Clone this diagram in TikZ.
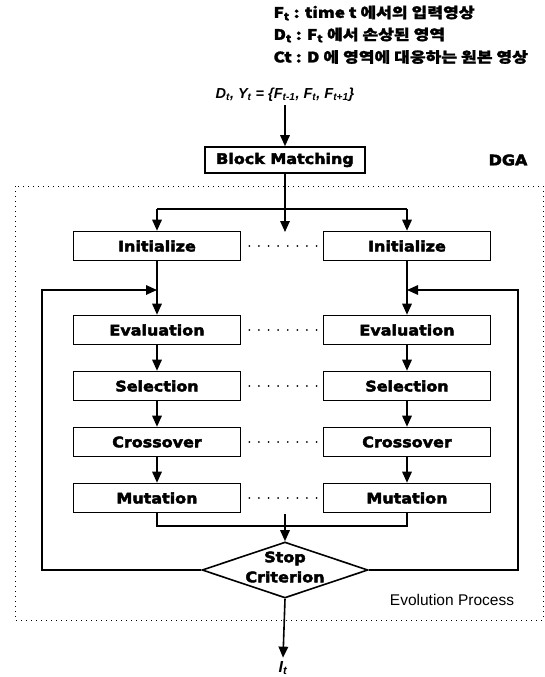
\documentclass[tikz,border=0pt]{standalone}
\usepackage{fontspec}
\setmainfont{DejaVu Sans}
\newfontfamily\blackfont{DejaVu Sans Bold}[FakeBold=3, FakeStretch=1.1]
\newfontfamily\krfont{Noto Sans CJK KR}[FakeStretch=1.18, BoldFeatures={FakeBold=1.5}]
\newfontfamily\arfont{Liberation Sans}[BoldFeatures={FakeBold=2}]
\usepackage{tikz}
\usetikzlibrary{arrows.meta}
\usetikzlibrary{shapes.geometric, calc}

\tikzset{
  stepbox/.style={draw, line width=1.6pt, fill=white, minimum width=167pt,
    minimum height=29pt, inner sep=0pt, font=\blackfont\fontsize{14.5}{17}\selectfont},
  flow/.style={line width=1.6pt, -{Triangle[length=11pt,width=9.5pt]}},
  link/.style={line width=1.6pt},
  gap/.style={line width=1.8pt, dash pattern=on 0.1pt off 9.5pt, line cap=round},
}

\begin{document}
\begin{tikzpicture}[x=1pt, y=-1pt]
\useasboundingbox (0,0) rectangle (545,677);
% legend
\node[anchor=west, font=\krfont\bfseries\fontsize{14.5}{16}\selectfont] (leg1) at (270,13) {F\textsubscript{t} : time t 에서의 입력영상};
\node[anchor=west, font=\krfont\bfseries\fontsize{14.5}{16}\selectfont] (leg2) at (270,35) {D\textsubscript{t} : F\textsubscript{t} 에서 손상된 영역};
\node[anchor=west, font=\krfont\bfseries\fontsize{14.5}{16}\selectfont] (leg3) at (270,57) {Ct : D 에 영역에 대응하는 원본 영상};

% input and block matching
\node[font=\arfont\bfseries\itshape\fontsize{14.5}{16}\selectfont] (input) at (285,95) {D\textsubscript{t}, Y\textsubscript{t} = \{F\textsubscript{t-1}, F\textsubscript{t}, F\textsubscript{t+1}\}};
\node[stepbox, minimum width=160pt, minimum height=26pt] (bm) at (285,160) {Block Matching};
\node[font=\blackfont\fontsize{14.5}{17}\selectfont] (dga) at (508,160) {DGA};
\draw[flow] (input.south) -- (bm.north);

% evolution process frame
\draw[line width=1pt, dash pattern=on 1pt off 4pt] (15,186) rectangle (543,620);
\node[font=\arfont\fontsize{15.5}{17}\selectfont] (evo) at (452,600) {Evolution Process};

% two populations
\foreach \nm/\txt/\y in {init/Initialize/246, eval/Evaluation/330, sel/Selection/386, cross/Crossover/442, mut/Mutation/498}{
  \node[stepbox] (\nm1) at (157,\y) {\txt};
  \node[stepbox] (\nm2) at (407,\y) {\txt};
  \draw[gap] ($(\nm1.east)+(8,0)$) -- (\nm2.west);
}
\foreach \a/\b in {init/eval, eval/sel, sel/cross, cross/mut}{
  \draw[flow] (\a1.south) -- (\b1.north);
  \draw[flow] (\a2.south) -- (\b2.north);
}

% split after block matching
\coordinate (split) at (285,209);
\coordinate (hang) at (285,232);
\draw[flow] (bm.south) -- (hang);
\draw[link] (split -| init1) -- (split -| init2);
\draw[flow] (split -| init1) -- (init1.north);
\draw[flow] (split -| init2) -- (init2.north);

% stop criterion
\node[draw, diamond, line width=1.6pt, fill=white, minimum width=166pt, minimum height=56pt, inner sep=0pt] (stop) at (285,570) {};
\node[align=center, font=\blackfont\fontsize{14.5}{20}\selectfont] (stoptxt) at (285,567) {Stop\\Criterion};
\coordinate (join) at (285,514);
\draw[link] (mut1.south) -- ++(0,12.5) -| (mut2.south);
\draw[flow] (join) -- (stop.north);

% feedback
\coordinate (fbL) at (157,290);
\coordinate (fbR) at (407,290);
\draw[flow] (stop.west) -- ++(-159,0) |- (fbL);
\draw[flow] (stop.east) -- ++(149,0) |- (fbR);

% output
\node[font=\arfont\bfseries\itshape\fontsize{16}{18}\selectfont] (out) at (283,668) {I\textsubscript{t}};
\draw[flow] (stop.south) -- (out.north);
\end{tikzpicture}
\end{document}
